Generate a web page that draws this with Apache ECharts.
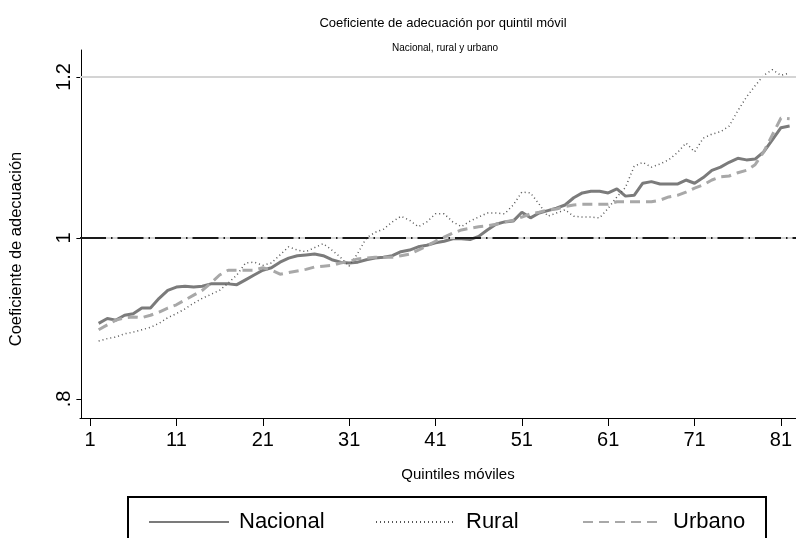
<!DOCTYPE html>
<html>
<head>
<meta charset="utf-8">
<script src="https://cdn.jsdelivr.net/npm/echarts@6/dist/echarts.min.js"></script>
<style>html,body{margin:0;padding:0;background:#fff;}#c{width:796px;height:538px;}</style>
</head>
<body>
<div id="c"></div>
<script>
var quintiles = [];
for (var q = 2; q <= 82; q++) quintiles.push(q);

var nacional = [0.894,0.900,0.898,0.904,0.906,0.913,0.913,0.925,0.935,0.939,0.940,0.939,0.940,0.943,0.943,0.943,0.942,0.948,0.954,0.960,0.963,0.970,0.975,0.978,0.979,0.980,0.978,0.973,0.970,0.969,0.970,0.973,0.975,0.976,0.978,0.983,0.985,0.989,0.991,0.994,0.996,0.999,0.999,0.998,1.002,1.010,1.017,1.020,1.021,1.032,1.025,1.031,1.034,1.037,1.041,1.050,1.056,1.058,1.058,1.056,1.061,1.052,1.053,1.068,1.070,1.067,1.067,1.067,1.072,1.068,1.075,1.084,1.088,1.094,1.099,1.097,1.098,1.107,1.122,1.137,1.139];

var rural = [0.872,0.875,0.877,0.881,0.883,0.886,0.889,0.894,0.901,0.906,0.912,0.919,0.925,0.930,0.935,0.944,0.954,0.969,0.970,0.966,0.969,0.979,0.989,0.985,0.983,0.988,0.993,0.985,0.976,0.965,0.981,1.000,1.007,1.011,1.020,1.027,1.022,1.014,1.020,1.030,1.030,1.020,1.014,1.021,1.026,1.031,1.031,1.030,1.041,1.057,1.056,1.042,1.027,1.031,1.035,1.027,1.026,1.026,1.025,1.037,1.051,1.063,1.089,1.094,1.088,1.092,1.097,1.106,1.118,1.107,1.124,1.129,1.132,1.139,1.158,1.175,1.189,1.202,1.209,1.202,1.205];

var urbano = [0.886,0.892,0.898,0.901,0.902,0.901,0.904,0.908,0.913,0.917,0.923,0.929,0.935,0.944,0.954,0.960,0.960,0.960,0.960,0.963,0.960,0.955,0.957,0.959,0.961,0.964,0.965,0.966,0.969,0.971,0.974,0.975,0.976,0.976,0.976,0.978,0.980,0.985,0.990,0.996,1.001,1.006,1.010,1.012,1.014,1.015,1.017,1.020,1.022,1.026,1.030,1.032,1.035,1.036,1.039,1.041,1.042,1.042,1.042,1.042,1.045,1.045,1.045,1.045,1.045,1.047,1.051,1.053,1.057,1.062,1.066,1.072,1.076,1.077,1.081,1.084,1.091,1.107,1.128,1.149,1.148];

var xTicks = [1, 11, 21, 31, 41, 51, 61, 71, 81];
var yTicks = [0.8, 1, 1.2];
var yTickLabels = ['.8', '1', '1.2'];

function pairs(vals) { return quintiles.map(function (x, i) { return [x, vals[i]]; }); }

var FONT = 'Liberation Sans, Arial, sans-serif';
var chart = echarts.init(document.getElementById('c'), null, {renderer: 'canvas'});

function legendAt(name, left) {
  return {
    data: [name], left: left, top: 506, orient: 'horizontal',
    itemWidth: 80, itemHeight: 22, itemGap: 0,
    itemStyle: {opacity: 0},
    textStyle: {fontFamily: FONT, fontSize: 22, color: '#000', padding: [0, 0, 0, 5]},
    selectedMode: false
  };
}

chart.setOption({
  backgroundColor: '#fff',
  animation: false,
  title: [
    {text: 'Coeficiente de adecuación por quintil móvil', left: 438, top: 12, textAlign: 'center',
     textStyle: {fontFamily: FONT, fontSize: 13, fontWeight: 'normal', color: '#000'}},
    {text: 'Nacional, rural y urbano', left: 440, top: 38, textAlign: 'center',
     textStyle: {fontFamily: FONT, fontSize: 10, fontWeight: 'normal', color: '#000'}}
  ],
  grid: {left: 80, right: 0, top: 50, bottom: 120, containLabel: false},
  xAxis: {
    type: 'value', min: -0.16, max: 82.74,
    name: 'Quintiles móviles', nameLocation: 'middle', nameGap: 49,
    nameTextStyle: {fontFamily: FONT, fontSize: 15, color: '#000', padding: [0, 0, 0, 40]},
    axisLine: {show: true, lineStyle: {color: '#000', width: 1}},
    axisTick: {show: true, length: 8, customValues: xTicks, lineStyle: {color: '#000'}},
    axisLabel: {customValues: xTicks, margin: 12, fontFamily: FONT, fontSize: 20, color: '#000'},
    splitLine: {show: false}
  },
  yAxis: {
    type: 'value', min: 0.7764, max: 1.2335,
    name: 'Coeficiente de adecuación', nameLocation: 'middle', nameGap: 55, nameRotate: 90,
    nameTextStyle: {fontFamily: FONT, fontSize: 16.5, color: '#000', padding: [0, 30, 0, 0]},
    axisLine: {show: true, lineStyle: {color: '#000', width: 1}},
    axisTick: {show: true, length: 5, customValues: yTicks, lineStyle: {color: '#000'}},
    axisLabel: {customValues: yTicks, rotate: 90, margin: 6, fontFamily: FONT, fontSize: 20, color: '#000',
      formatter: function (v) { var i = yTicks.indexOf(v); return i >= 0 ? yTickLabels[i] : ''; }},
    splitLine: {show: false}
  },
  legend: [legendAt('Nacional', 143), legendAt('Rural', 370), legendAt('Urbano', 577)],
  graphic: [{
    type: 'rect', silent: true,
    shape: {x: 128, y: 497, width: 638, height: 46},
    style: {fill: 'none', stroke: '#000', lineWidth: 2}
  }],
  series: [
    {
      name: 'Nacional', type: 'line', data: pairs(nacional), symbol: 'none', z: 3,
      lineStyle: {color: '#7b7b7b', width: 3, type: 'solid'}, itemStyle: {color: '#7b7b7b'},
      markLine: {
        silent: true, symbol: 'none', label: {show: false}, animation: false,
        data: [
          {yAxis: 1.2, lineStyle: {color: '#d4d4d4', width: 2, type: 'solid'}},
          {yAxis: 1, lineStyle: {color: '#d4d4d4', width: 2, type: 'solid'}},
          {yAxis: 1, lineStyle: {color: '#1a1a1a', width: 2, type: [26, 5, 1.5, 5]}}
        ]
      }
    },
    {
      name: 'Rural', type: 'line', data: pairs(rural), symbol: 'none', z: 4,
      lineStyle: {color: '#555555', width: 1.5, type: [1, 3]}, itemStyle: {color: '#555555'}
    },
    {
      name: 'Urbano', type: 'line', data: pairs(urbano), symbol: 'none', z: 5,
      lineStyle: {color: '#a8a8a8', width: 3, type: [10, 6]}, itemStyle: {color: '#a8a8a8'}
    }
  ]
});
</script>
</body>
</html>
